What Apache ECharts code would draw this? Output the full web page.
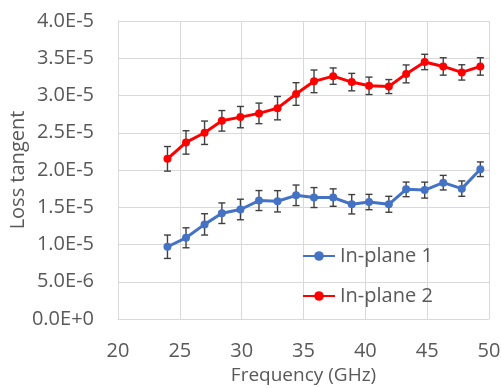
<!DOCTYPE html>
<html>
<head>
<meta charset="utf-8">
<script src="https://cdn.jsdelivr.net/npm/echarts@6/dist/echarts.min.js"></script>
<style>html,body{margin:0;padding:0;background:#fff;}#c{width:501px;height:388px;}</style>
</head>
<body>
<div id="c"></div>
<script>
var freq = [24.0, 25.5, 27.0, 28.4, 29.9, 31.4, 32.9, 34.4, 35.85, 37.4, 38.9, 40.3, 41.9, 43.3, 44.8, 46.3, 47.8, 49.3];
var plane1 = [0.97e-5, 1.09e-5, 1.27e-5, 1.42e-5, 1.47e-5, 1.59e-5, 1.58e-5, 1.66e-5, 1.63e-5, 1.63e-5, 1.54e-5, 1.57e-5, 1.54e-5, 1.74e-5, 1.73e-5, 1.83e-5, 1.75e-5, 2.01e-5];
var plane1Err = [1.57e-6, 1.34e-6, 1.43e-6, 1.38e-6, 1.38e-6, 1.34e-6, 1.43e-6, 1.38e-6, 1.34e-6, 1.17e-6, 1.30e-6, 1.03e-6, 1.07e-6, 0.98e-6, 1.07e-6, 0.98e-6, 1.03e-6, 0.98e-6];
var plane2 = [2.15e-5, 2.37e-5, 2.50e-5, 2.66e-5, 2.71e-5, 2.76e-5, 2.83e-5, 3.02e-5, 3.19e-5, 3.26e-5, 3.18e-5, 3.13e-5, 3.12e-5, 3.29e-5, 3.45e-5, 3.39e-5, 3.31e-5, 3.39e-5];
var plane2Err = [1.65e-6, 1.57e-6, 1.57e-6, 1.38e-6, 1.43e-6, 1.38e-6, 1.57e-6, 1.52e-6, 1.52e-6, 1.10e-6, 1.17e-6, 1.17e-6, 0.94e-6, 1.20e-6, 1.03e-6, 1.17e-6, 1.03e-6, 1.17e-6];
var yTickLabels = ["0.0E+0", "5.0E-6", "1.0E-5", "1.5E-5", "2.0E-5", "2.5E-5", "3.0E-5", "3.5E-5", "4.0E-5"];
var xTickLabels = ["20", "25", "30", "35", "40", "45", "50"];
var seriesNames = ["In-plane 1", "In-plane 2"];

var FONT = "'Open Sans', sans-serif";
var TXT = '#595959';
var GRID = '#d9d9d9';

function pairs(xs, ys) { return xs.map(function (x, i) { return [x, ys[i]]; }); }
function errs(xs, ys, es) { return xs.map(function (x, i) { return [x, ys[i] - es[i], ys[i] + es[i]]; }); }

function errRender(params, api) {
  var x = api.value(0), lo = api.value(1), hi = api.value(2);
  var p1 = api.coord([x, hi]), p2 = api.coord([x, lo]);
  var w = 3.5;
  var st = { stroke: '#404040', lineWidth: 1.4 };
  return {
    type: 'group', children: [
      { type: 'line', shape: { x1: p1[0], y1: p1[1], x2: p2[0], y2: p2[1] }, style: st },
      { type: 'line', shape: { x1: p1[0] - w, y1: p1[1], x2: p1[0] + w, y2: p1[1] }, style: st },
      { type: 'line', shape: { x1: p2[0] - w, y1: p2[1], x2: p2[0] + w, y2: p2[1] }, style: st }
    ]
  };
}

var chart = echarts.init(document.getElementById('c'), null, { renderer: 'canvas' });
chart.setOption({
  animation: false,
  backgroundColor: '#fff',
  textStyle: { fontFamily: FONT },
  grid: { left: 118, right: 12, top: 21, bottom: 69, containLabel: false, outerBoundsMode: 'none' },
  xAxis: {
    type: 'value', min: 20, max: 50, interval: 5,
    name: 'Frequency (GHz)', nameLocation: 'middle', nameGap: 47, nameMoveOverlap: false,
    nameTextStyle: { color: TXT, fontSize: 19, fontFamily: FONT },
    axisLine: { show: true, lineStyle: { color: GRID, width: 1 } },
    axisTick: { show: false },
    splitLine: { show: true, lineStyle: { color: GRID, width: 1 } },
    axisLabel: {
      color: TXT, fontSize: 20, fontFamily: FONT, margin: 22,
      formatter: function (v) { var i = Math.round((v - 20) / 5); return xTickLabels[i] || ''; }
    }
  },
  yAxis: {
    type: 'value', min: 0, max: 4e-5, interval: 5e-6,
    name: 'Loss tangent', nameLocation: 'middle', nameGap: 90, nameMoveOverlap: false,
    nameTextStyle: { color: TXT, fontSize: 20, fontFamily: FONT },
    axisLine: { show: true, lineStyle: { color: GRID, width: 1 } },
    axisTick: { show: false },
    splitLine: { show: true, lineStyle: { color: GRID, width: 1 } },
    axisLabel: {
      color: TXT, fontSize: 20, fontFamily: FONT, margin: 24,
      formatter: function (v) { var i = Math.round(v / 5e-6); return yTickLabels[i] || ''; }
    }
  },
  legend: {
    data: seriesNames,
    orient: 'vertical', left: 297, top: 241,
    itemWidth: 32, itemHeight: 12, itemGap: 20,
    textStyle: { color: TXT, fontSize: 20, fontFamily: FONT, lineHeight: 20 },
    backgroundColor: 'transparent'
  },
  series: [
    { name: 'err1', type: 'custom', renderItem: errRender, data: errs(freq, plane1, plane1Err), encode: { x: 0, y: [1, 2] }, z: 1, silent: true },
    { name: 'err2', type: 'custom', renderItem: errRender, data: errs(freq, plane2, plane2Err), encode: { x: 0, y: [1, 2] }, z: 1, silent: true },
    {
      name: seriesNames[0], type: 'line', data: pairs(freq, plane1), z: 3,
      symbol: 'circle', symbolSize: 8,
      lineStyle: { color: '#4472C4', width: 3 },
      itemStyle: { color: '#4472C4' }
    },
    {
      name: seriesNames[1], type: 'line', data: pairs(freq, plane2), z: 3,
      symbol: 'circle', symbolSize: 8,
      lineStyle: { color: '#FF0000', width: 3 },
      itemStyle: { color: '#FF0000' }
    }
  ]
});
</script>
</body>
</html>
